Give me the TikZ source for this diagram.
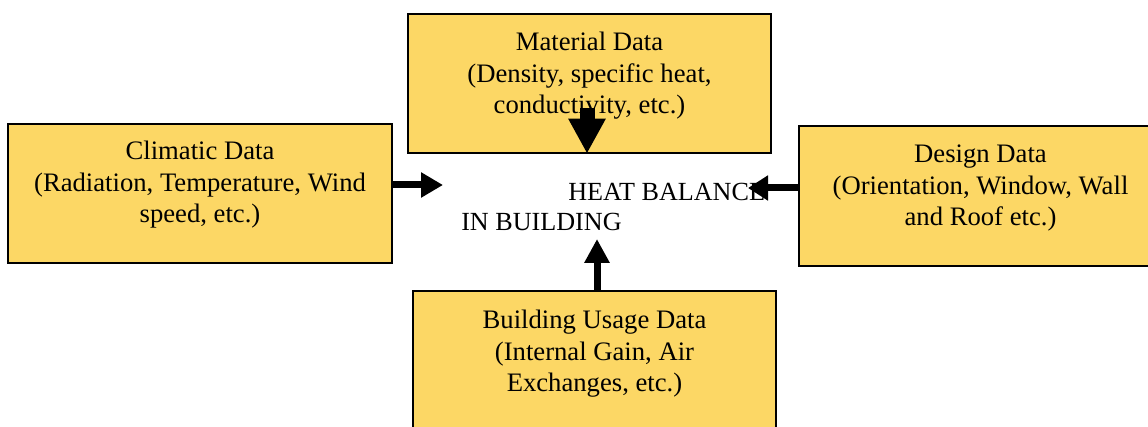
\documentclass[tikz,border=0pt]{standalone}
\usepackage{fontspec}
\setmainfont{Liberation Serif}
\usetikzlibrary{arrows.meta}
\definecolor{boxfill}{RGB}{252,215,101}
\newcommand\boxlines[1]{\begin{tabular}[t]{@{}c@{}}#1\end{tabular}}
\renewcommand\arraystretch{1}
\begin{document}
\begin{tikzpicture}[x=0.75pt,y=-0.75pt,
  box/.style={draw=black,line width=1pt,fill=boxfill,inner sep=0pt,minimum width=272.25pt,minimum height=104.25pt},
  txt/.style={inner sep=0pt,font=\fontsize{19.6pt}{23pt}\selectfont},
  btxt/.style={inner sep=0pt,font=\fontsize{20pt}{23.4pt}\selectfont},
  arr/.style={line width=5.25pt,-{Triangle[length=16.5pt,width=18pt]}},
  bigarr/.style={line width=11.25pt,-{Triangle[length=26.25pt,width=26.25pt]}}]
\useasboundingbox (0,0) rectangle (1148,427);
\clip (0,0) rectangle (1148,427);
% boxes
\node[box] (mat) at (589.5,83.5) {};
\node[box,minimum width=288pt] (clim) at (200,193.5) {};
\node[box,minimum height=105pt] (des) at (980.5,196) {};
\node[box] (use) at (594.5,360.5) {};
% texts
\node[btxt,anchor=base] (matt) at (589.5,51) {\boxlines{Material Data\\(Density, specific heat,\\conductivity, etc.)}};
\node[btxt,anchor=base] (climt) at (200,160) {\boxlines{Climatic Data\\(Radiation, Temperature, Wind\\speed, etc.)}};
\node[btxt,anchor=base] (dest) at (980.5,163) {\boxlines{Design Data\\(Orientation, Window, Wall\\and Roof etc.)}};
\node[btxt,anchor=base] (uset) at (594.5,329) {\boxlines{Building Usage Data\\(Internal Gain, Air\\Exchanges, etc.)}};
\node[txt,anchor=base west] (heat) at (568,201) {HEAT BALANCE};
\node[txt,anchor=base west] (inb) at (461,231) {IN BUILDING};
% arrow ends
\coordinate (tc) at (443,185);
\coordinate (mt) at (587,108);
\coordinate (td) at (748,188);
\coordinate (tu) at (597,239);
% arrows
\draw[arr] (clim.east |- tc) -- (tc);
\draw[bigarr] (mt) -- (mat.south -| mt);
\draw[arr,-{Triangle[length=15pt,width=18pt]}] (des.west |- td) -- (td);
\draw[arr,-{Triangle[length=18pt,width=18pt]}] (use.north -| tu) -- (tu);
\end{tikzpicture}
\end{document}
